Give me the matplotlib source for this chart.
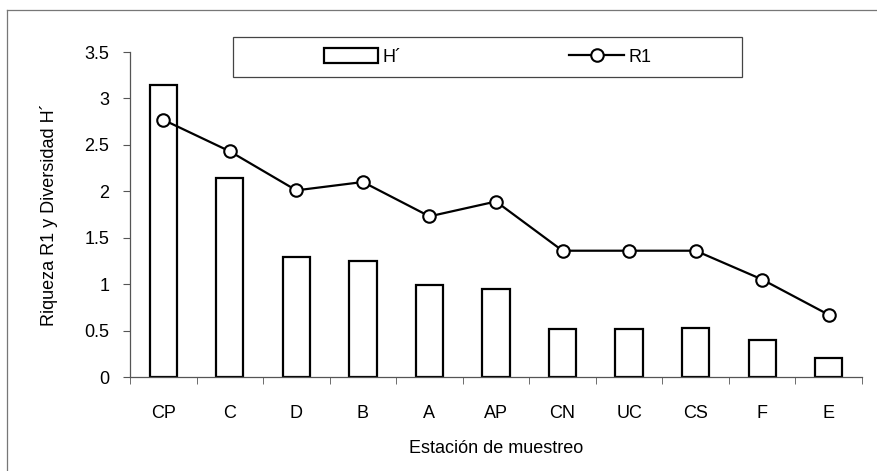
import matplotlib
matplotlib.use("Agg")
import matplotlib.pyplot as plt
from matplotlib.patches import Rectangle
from matplotlib.lines import Line2D
import numpy as np

plt.rcParams['font.family'] = ['Liberation Sans', 'DejaVu Sans']

estaciones = ["CP", "C", "D", "B", "A", "AP", "CN", "UC", "CS", "F", "E"]
diversidad_H = [3.15, 2.14, 1.29, 1.25, 0.99, 0.95, 0.52, 0.52, 0.53, 0.40, 0.21]
riqueza_R1 = [2.77, 2.43, 2.01, 2.10, 1.73, 1.89, 1.36, 1.36, 1.36, 1.05, 0.67]
yticks = [0, 0.5, 1, 1.5, 2, 2.5, 3, 3.5]
ytick_labels = ["0", "0.5", "1", "1.5", "2", "2.5", "3", "3.5"]

W, H = 877, 471
FS = 13
fig = plt.figure(figsize=(W / 100, H / 100), dpi=100)
ax = fig.add_axes([130 / W, 1 - 377 / H, (862 - 130) / W, (377 - 52) / H])

x = np.arange(len(estaciones))
bars = ax.bar(x, diversidad_H, width=0.41, facecolor="white", edgecolor="black",
              linewidth=1.6, label="H´", zorder=2)
line, = ax.plot(x, riqueza_R1, color="black", linewidth=1.6, marker="o", markersize=9,
                markerfacecolor="white", markeredgecolor="black", markeredgewidth=1.5,
                label="R1", zorder=3)

ax.set_xlim(-0.5, len(estaciones) - 0.5)
ax.set_ylim(0, 3.5)
ax.set_yticks(yticks)
ax.set_yticklabels(ytick_labels, fontsize=FS)
ax.set_xticks(x)
ax.set_xticklabels(estaciones, fontsize=FS)
ax.set_xticks(np.arange(-0.5, len(estaciones)), minor=True)
ax.tick_params(axis="x", which="major", length=0, pad=20)
ax.tick_params(axis="x", which="minor", length=5, direction="out", color="#555555")
ax.tick_params(axis="y", length=5, direction="out", color="#555555", pad=10)
for s in ["top", "right"]:
    ax.spines[s].set_visible(False)
for s in ["left", "bottom"]:
    ax.spines[s].set_color("#555555")
    ax.spines[s].set_linewidth(0.9)

ax.set_xlabel("Estación de muestreo", fontsize=FS, labelpad=13)
ax.set_ylabel("Riqueza R1 y Diversidad H´", fontsize=FS, labelpad=19)

leg = fig.legend(handles=[bars, line], labels=["H´", "R1"], loc="center",
                 bbox_to_anchor=(487.5 / W, 1 - 57 / H), ncol=2,
                 fontsize=FS, frameon=False, handlelength=3.0, handleheight=0.9,
                 columnspacing=9.3, handletextpad=0.25)

fig.patches.append(Rectangle((233 / W, 1 - 77 / H), (742 - 233) / W, 40 / H,
                             transform=fig.transFigure, fill=False,
                             edgecolor="#444444", linewidth=0.9))

# outer frame (left and top edges visible in the reference)
fig.lines.append(Line2D([7 / W, 7 / W], [0, 1 - 10 / H], transform=fig.transFigure,
                        color="#777777", linewidth=0.9))
fig.lines.append(Line2D([7 / W, 1], [1 - 10 / H, 1 - 10 / H], transform=fig.transFigure,
                        color="#777777", linewidth=0.9))

fig.savefig("out.png", dpi=100)
